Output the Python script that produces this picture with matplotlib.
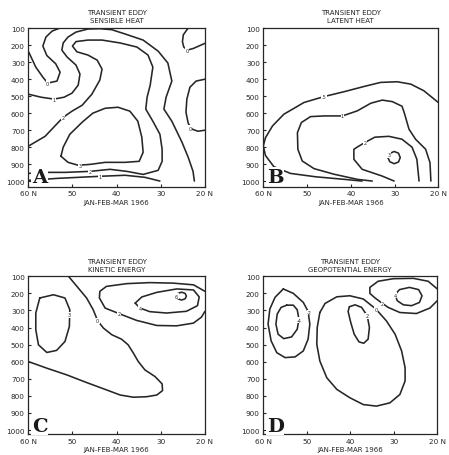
import matplotlib
matplotlib.use('Agg')
import matplotlib.pyplot as plt

# axis ticks
lat_ticks = [60, 50, 40, 30, 20]
lat_ticklabels = ['60 N', '50', '40', '30', '20 N']
p_ticks = [100, 200, 300, 400, 500, 600, 700, 800, 900, 1000]

# ---- A: transient eddy sensible heat, contour lines as (lat, mb)
sens_0_west = [(60, 236), (58.3, 330), (56.7, 389), (55.6, 424), (53.5, 412), (52.8, 360),
               (53.8, 310), (55.8, 262), (56.7, 206), (56.0, 153), (54.6, 118), (52.8, 100)]
sens_1_s = [(60, 489), (57.1, 507), (54.2, 518), (51.9, 507), (50.1, 483), (48.7, 436),
            (48.3, 371), (49.2, 318), (51.2, 271), (52.4, 230), (52.1, 188), (51.0, 153),
            (49.2, 124), (46.5, 106), (43.8, 104), (41.1, 110), (38.1, 135), (34.0, 171),
            (30.6, 236), (28.4, 306), (27.5, 412), (28.8, 507), (29.3, 577), (27.5, 648),
            (25.2, 772), (23.8, 860), (22.7, 943), (22.4, 1000)]
sens_2 = [(60, 795), (56.2, 737), (52.1, 625), (50.1, 589), (47.8, 554), (45.6, 489),
          (43.8, 406), (43.3, 342), (44.4, 289), (46.5, 259), (49.0, 240), (50.0, 206),
          (49.2, 180), (46.5, 171), (43.3, 171), (39.2, 188), (35.4, 212), (32.9, 259),
          (31.8, 330), (32.4, 436), (33.1, 507), (33.4, 577), (31.8, 648), (30.2, 725),
          (29.7, 813), (29.7, 884), (30.6, 937), (34.0, 961), (37.7, 943), (41.5, 931),
          (46.0, 943), (51.7, 949), (56.2, 949), (60, 955)]
sens_3 = [(52.6, 854), (52.1, 801), (50.6, 725), (47.8, 654), (45.4, 601), (42.6, 572),
          (39.7, 566), (37.0, 589), (35.2, 648), (34.3, 742), (34.0, 831), (34.9, 884),
          (38.1, 890), (42.6, 890), (46.0, 902), (48.7, 907), (51.0, 890), (52.6, 854)]
sens_1_low = [(60, 996), (53.3, 984), (43.8, 972), (38.1, 966), (33.6, 978), (30.2, 1000)]
sens_0_ne = [(23.8, 100), (24.9, 140), (25.1, 180), (24.8, 212), (24.0, 230), (22.6, 220), (20, 190)]
sens_0_e = [(20, 401), (22.0, 412), (23.4, 448), (24.1, 518), (24.3, 595), (23.8, 660),
            (22.9, 695), (21.6, 707), (20, 701)]
sens_labels = [('0', 55.6, 424), ('1', 54.2, 518), ('2', 52.1, 625), ('3', 48.3, 907),
               ('2', 46.0, 943), ('1', 43.8, 972), ('0', 24.0, 230), ('0', 23.4, 689)]

# ---- B: latent heat
latent_05 = [(37.4, 1000), (41.5, 990), (48.0, 975), (53.8, 955), (57.6, 915), (59.5, 850),
             (60, 794), (59.5, 745), (57.9, 676), (55.3, 607), (50.7, 538), (46.1, 503),
             (41.6, 475), (37.0, 444), (33.2, 420), (29.4, 416), (26.3, 430), (23.3, 469), (20, 538)]
latent_1 = [(35.1, 1000), (38.5, 990), (43.8, 960), (48.4, 927), (51.1, 882), (52.1, 813),
            (52.2, 715), (51.3, 656), (49.2, 621), (46.1, 617), (41.9, 617), (38.5, 587),
            (35.4, 542), (32.8, 524), (30.5, 533), (28.3, 560), (27.8, 597), (26.7, 695),
            (25.2, 754), (22.9, 813), (21.9, 892), (21.7, 1000)]
latent_2 = [(30.1, 1000), (32.9, 970), (37.4, 931), (39.3, 872), (39.3, 813), (38.2, 795),
            (36.7, 772), (34.5, 742), (31.3, 737), (28.3, 754), (26.0, 801), (24.9, 872), (24.4, 1000)]
latent_3 = [(31.5, 862), (31.1, 838), (30.1, 826), (29.1, 836), (28.7, 862), (29.1, 888),
            (30.1, 898), (31.1, 886), (31.5, 862)]
latent_labels = [('.5', 46.1, 503), ('1', 41.9, 617), ('2', 36.7, 772), ('3', 31.3, 845)]

# ---- C: kinetic energy
kin_3 = [(57.4, 227), (54.3, 208), (51.7, 227), (50.6, 296), (50.7, 394), (51.7, 482),
         (53.6, 534), (55.8, 546), (57.7, 501), (58.3, 413), (58.3, 315), (57.4, 227)]
kin_0 = [(50.9, 100), (48.7, 168), (46.8, 227), (45.3, 296), (44.3, 360), (43.0, 403),
         (41.1, 442), (38.9, 468), (37.4, 501), (36.2, 550), (35.1, 599), (33.6, 648),
         (31.3, 687), (29.7, 730), (29.6, 769), (30.9, 795), (33.2, 805), (36.2, 808),
         (39.2, 795), (42.3, 765), (46.8, 722), (51.3, 677), (55.8, 638), (60, 599)]
kin_2 = [(20, 188), (22.6, 150), (27.2, 140), (32.5, 137), (37.7, 143), (42.3, 159),
         (43.8, 188), (43.9, 227), (42.6, 286), (39.4, 319), (35.5, 358), (30.9, 388),
         (26.4, 390), (22.6, 374), (20.8, 339), (20, 305)]
kin_4 = [(35.8, 257), (34.3, 221), (30.9, 194), (26.4, 174), (22.6, 180), (21.3, 221),
         (21.7, 272), (24.2, 305), (28.7, 315), (32.5, 307), (34.7, 286), (35.8, 257)]
kin_6 = [(26.4, 216), (26.1, 200), (25.3, 193), (24.5, 200), (24.2, 216), (24.5, 232),
         (25.3, 239), (26.1, 232), (26.4, 216)]
kin_labels = [('3', 50.7, 325), ('0', 44.3, 360), ('2', 39.4, 319), ('4', 34.7, 286), ('6', 26.4, 216)]

# ---- D: geopotential energy
geo_m2 = [(55.4, 174), (53.1, 200), (50.8, 253), (49.7, 306), (49.3, 380), (49.7, 468),
          (50.8, 537), (52.7, 572), (55.0, 576), (56.9, 547), (58.2, 478), (58.9, 380),
          (58.5, 292), (57.3, 223), (55.4, 174)]
geo_m4 = [(54.6, 269), (53.1, 269), (52.2, 296), (51.8, 351), (52.2, 410), (53.5, 455),
          (55.3, 465), (56.6, 439), (57.1, 380), (56.8, 321), (55.9, 282), (54.6, 269)]
geo_0 = [(47.0, 312), (45.8, 259), (43.1, 220), (40.1, 214), (37.0, 233), (34.1, 292),
         (31.7, 361), (29.7, 439), (28.2, 537), (27.4, 635), (27.4, 713), (28.6, 792),
         (30.9, 841), (34.0, 860), (37.0, 851), (40.1, 811), (43.1, 762), (45.4, 694),
         (47.0, 596), (47.7, 498), (47.6, 400), (47.0, 312)]
geo_2_mid = [(40.2, 278), (38.9, 267), (37.4, 282), (36.1, 331), (35.6, 400), (35.9, 468),
             (36.9, 492), (38.0, 484), (39.1, 439), (39.9, 370), (40.5, 306), (40.2, 278)]
geo_2_ne = [(20, 174), (22.1, 129), (25.5, 112), (30.1, 114), (33.6, 129), (35.5, 165),
            (35.5, 200), (34.3, 227), (32.6, 259), (31.3, 282), (28.6, 312), (24.8, 318),
            (21.7, 286), (20, 243)]
geo_4_ne = [(29.7, 208), (28.7, 178), (26.4, 165), (24.3, 178), (23.5, 214), (24.1, 253),
            (25.9, 272), (27.8, 267), (29.2, 243), (29.7, 208)]
geo_labels = [('-2', 49.4, 312), ('-4', 51.8, 357), ('0', 34.1, 292), ('2', 36.1, 331),
              ('2', 32.6, 259), ('4', 29.7, 210)]

ink = '#262626'


def panel(ax, title, letter, lines, labels, pbottom):
    for pts in lines:
        lat, p = zip(*pts)
        ax.plot(lat, p, color=ink, lw=1.15, solid_joinstyle='round', solid_capstyle='round')
    for s, la, pp in labels:
        ax.text(la, pp, s, fontsize=3.6, ha='center', va='center', color=ink,
                bbox=dict(fc='white', ec='none', pad=0.3))
    ax.set_xlim(60, 20)
    ax.set_ylim(pbottom, 100)
    ax.set_xticks(lat_ticks)
    ax.set_xticklabels(lat_ticklabels)
    ax.set_yticks(p_ticks)
    ax.tick_params(direction='in', length=2.5, width=0.8, labelsize=5.2, pad=2.5, colors=ink)
    for sp in ax.spines.values():
        sp.set_color(ink)
        sp.set_linewidth(0.9)
    ax.set_title(title, fontsize=5, pad=4, linespacing=1.4, color=ink)
    ax.set_xlabel('JAN-FEB-MAR 1966', fontsize=5, labelpad=1.5, color=ink)
    ax.text(59.2, 1005, letter, fontsize=14, family='DejaVu Serif', fontweight='bold',
            ha='left', va='baseline', color='#1a1a1a',
            bbox=dict(fc='white', ec='none', pad=0.4))


fig = plt.figure(figsize=(4.49, 4.56), dpi=100)
axA = fig.add_axes([0.063, 0.5877, 0.3935, 0.3487])
axB = fig.add_axes([0.5864, 0.5877, 0.3898, 0.3487])
axC = fig.add_axes([0.063, 0.0454, 0.3935, 0.3465])
axD = fig.add_axes([0.5864, 0.0454, 0.3875, 0.3465])

panel(axA, 'TRANSIENT EDDY\nSENSIBLE HEAT', 'A',
      [sens_0_west, sens_1_s, sens_2, sens_3, sens_1_low, sens_0_ne, sens_0_e], sens_labels, 1035)
panel(axB, 'TRANSIENT EDDY\nLATENT HEAT', 'B',
      [latent_05, latent_1, latent_2, latent_3], latent_labels, 1035)
panel(axC, 'TRANSIENT EDDY\nKINETIC ENERGY', 'C',
      [kin_3, kin_0, kin_2, kin_4, kin_6], kin_labels, 1025)
panel(axD, 'TRANSIENT EDDY\nGEOPOTENTIAL ENERGY', 'D',
      [geo_m2, geo_m4, geo_0, geo_2_mid, geo_2_ne, geo_4_ne], geo_labels, 1025)

fig.savefig('out.png', dpi=100)
